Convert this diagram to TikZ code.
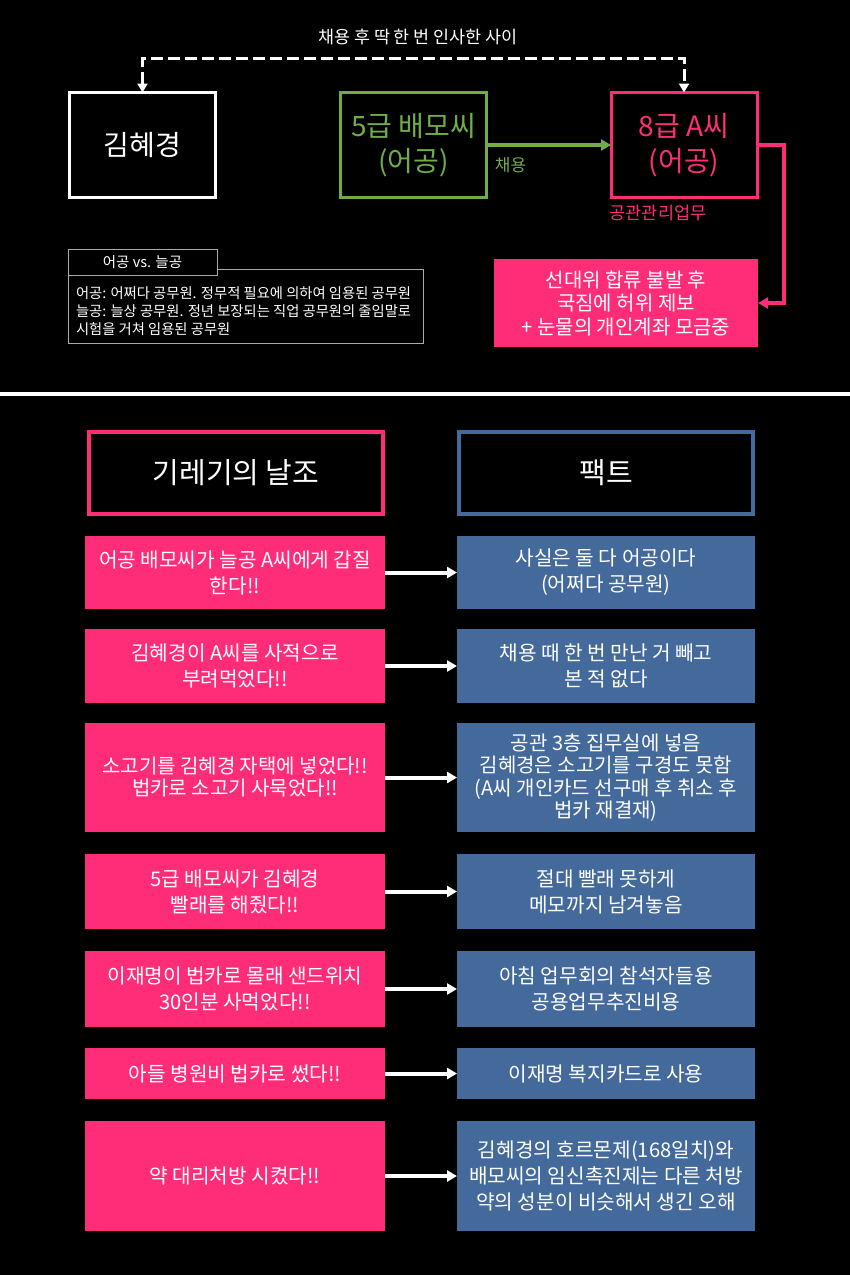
\documentclass[tikz,border=0pt]{standalone}
\usepackage{fontspec}
\setmainfont{Noto Sans CJK KR}
\usetikzlibrary{arrows.meta}
\definecolor{pinkc}{RGB}{255,45,120}
\definecolor{bluec}{RGB}{68,106,156}
\definecolor{greenc}{RGB}{112,173,71}
\definecolor{legc}{RGB}{170,170,170}
\tikzset{
  every node/.style={inner sep=0pt, outer sep=0pt},
  topbox/.style={draw, line width=3pt, minimum width=146pt, minimum height=105pt, align=center, font=\fontsize{28}{35}\selectfont},
  headbox/.style={draw, line width=4pt, minimum width=294pt, minimum height=82pt, align=center, text=white, font=\fontsize{29}{34}\selectfont},
  lbox/.style={fill=pinkc, text=white, minimum width=300pt, align=center, font=\fontsize{20.2}{26}\selectfont},
  rbox/.style={fill=bluec, text=white, minimum width=298pt, align=center, font=\fontsize{20.2}{26}\selectfont},
  warrow/.style={white, line width=4pt, -{Triangle[length=10pt,width=11pt]}},
  dsh/.style={white, line width=3pt, dash pattern=on 12pt off 5pt, {Triangle[length=9pt,width=10pt]}-{Triangle[length=9pt,width=10pt]}},
  garrow/.style={greenc, line width=4pt, -{Triangle[length=10pt,width=11pt]}},
  parrow/.style={pinkc, line width=4pt, -{Triangle[length=10pt,width=11pt]}},
}
\begin{document}
\begin{tikzpicture}[x=1pt,y=-1pt]
\fill[black] (0,0) rectangle (850,1275);
\useasboundingbox (0,0) rectangle (850,1275);

% top section
\node[text=white, font=\fontsize{17.4}{20}\selectfont] (rel) at (418,37) {채용 후 딱 한 번 인사한 사이};
\node[topbox, draw=white, text=white] (kim) at (142.5,145) {김혜경};
\node[topbox, draw=greenc, text=greenc] (b5) at (413.5,145) {5급 배모씨\\(어공)};
\node[topbox, draw=pinkc, text=pinkc] (a8) at (684,145) {8급 A씨\\(어공)};
\draw[dsh] (kim.north) -- ++(0,-34) -| (a8.north);
\draw[garrow] (b5.east) -- (a8.west);
\node[text=greenc, font=\fontsize{17}{20}\selectfont] (hire) at (510.5,165) {채용};
\node[text=pinkc, font=\fontsize{17.5}{20}\selectfont] (duty) at (658,213) {공관관리업무};
\node[fill=pinkc, text=white, minimum width=264pt, minimum height=88pt, align=center, font=\fontsize{20}{23.5}\selectfont] (claim) at (626,303) {선대위 합류 불발 후\\국짐에 허위 제보\\+ 눈물의 개인계좌 모금중};
\draw[parrow] (a8.east) -- ++(27,0) |- (claim.east);

% legend
\node[draw=legc, line width=1pt, minimum width=355pt, minimum height=74pt] (legbody) at (245.5,306) {};
\node[draw=legc, fill=black, line width=1pt, minimum width=149pt, minimum height=26pt, text=white, font=\fontsize{14.5}{16}\selectfont] (leghead) at (142.5,262) {어공 vs. 늘공};
\node[anchor=west, text=white, align=left, font=\fontsize{14.3}{17.8}\selectfont] (legtext) at (76,311) {어공: 어쩌다 공무원. 정무적 필요에 의하여 임용된 공무원\\늘공: 늘상 공무원. 정년 보장되는 직업 공무원의 줄임말로\\시험을 거쳐 임용된 공무원};

% separator
\draw[white, line width=4pt] (0,394) -- (850,394);

% headers
\node[headbox, draw=pinkc] (hl) at (236,473) {기레기의 날조};
\node[headbox, draw=bluec] (hr) at (606,473) {팩트};

% rows
\node[lbox, minimum height=73pt] (l1) at (235,572.5) {어공 배모씨가 늘공 A씨에게 갑질\\한다!!};
\node[rbox, minimum height=73pt] (r1) at (606,572.5) {사실은 둘 다 어공이다\\(어쩌다 공무원)};
\node[lbox, minimum height=74pt] (l2) at (235,666) {김혜경이 A씨를 사적으로\\부려먹었다!!};
\node[rbox, minimum height=74pt] (r2) at (606,666) {채용 때 한 번 만난 거 빼고\\본 적 없다};
\node[lbox, minimum height=109pt, font=\fontsize{20}{22}\selectfont] (l3) at (235,777.5) {소고기를 김혜경 자택에 넣었다!!\\법카로 소고기 사묵었다!!};
\node[rbox, minimum height=109pt, font=\fontsize{20}{22.5}\selectfont] (r3) at (606,777.5) {공관 3층 집무실에 넣음\\김혜경은 소고기를 구경도 못함\\(A씨 개인카드 선구매 후 취소 후\\법카 재결재)};
\node[lbox, minimum height=75pt] (l4) at (235,891.5) {5급 배모씨가 김혜경\\빨래를 해줬다!!};
\node[rbox, minimum height=75pt] (r4) at (606,891.5) {절대 빨래 못하게\\메모까지 남겨놓음};
\node[lbox, minimum height=76pt] (l5) at (235,989) {이재명이 법카로 몰래 샌드위치\\30인분 사먹었다!!};
\node[rbox, minimum height=76pt] (r5) at (606,989) {아침 업무회의 참석자들용\\공용업무추진비용};
\node[lbox, minimum height=51pt] (l6) at (235,1073.5) {아들 병원비 법카로 썼다!!};
\node[rbox, minimum height=51pt] (r6) at (606,1073.5) {이재명 복지카드로 사용};
\node[lbox, minimum height=110pt] (l7) at (235,1176) {약 대리처방 시켰다!!};
\node[rbox, minimum height=110pt] (r7) at (606,1176) {김혜경의 호르몬제(168일치)와\\배모씨의 임신촉진제는 다른 처방\\약의 성분이 비슷해서 생긴 오해};

\foreach \i in {1,...,7} {\draw[warrow] (l\i.east) -- (r\i.west);}
\end{tikzpicture}
\end{document}
